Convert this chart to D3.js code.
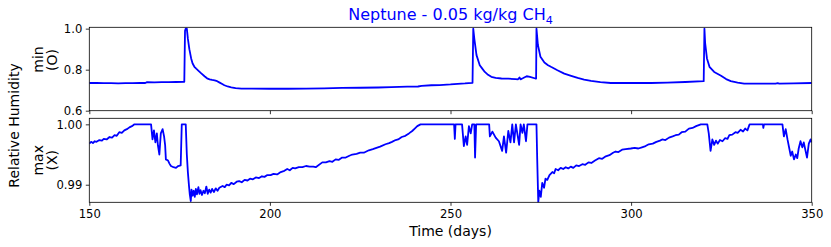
<!DOCTYPE html>
<html>
<head>
<meta charset="utf-8">
<script src="https://d3js.org/d3.v7.min.js"></script>
<style>
  body { margin: 0; background: #fff; }
  svg { font-family: "DejaVu Sans", sans-serif; }
</style>
</head>
<body>
<svg id="chart" width="831" height="247"></svg>
<script>
// top panel: min relative humidity (O)
const minDays = [150, 152, 154, 156, 158, 160, 162, 164, 165.5, 166, 168, 170, 172, 174, 176.3, 176.5, 176.7, 177.0, 177.3, 177.7, 178.2, 178.6, 179.1, 179.6, 180.1, 181, 181.9, 182.6, 183.3, 184, 184.7, 185.4, 186.1, 186.8, 187.4, 188.3, 189.3, 190.5, 192.1, 195, 200, 205, 210, 215, 220, 225, 230, 233.6, 238, 241, 242, 244.7, 247, 250, 252, 254, 256.1, 256.3, 256.6, 257.2, 258.1, 258.8, 259.5, 260.4, 261.3, 262.5, 264.1, 266, 268, 268.7, 269.1, 269.4, 270, 271.1, 272, 273.5, 273.7, 273.8, 274.2, 274.9, 276, 277, 277.8, 279.6, 281.5, 283.4, 285.2, 287, 288.9, 291.5, 294.4, 300, 305.5, 310, 315, 320.1, 320.3, 320.5, 321, 321.7, 323, 324.9, 326.3, 327.6, 329.5, 331.3, 335, 340, 340.6, 341, 345, 350];
const minVals = [0.735, 0.736, 0.734, 0.734, 0.733, 0.734, 0.734, 0.735, 0.735, 0.739, 0.738, 0.739, 0.739, 0.740, 0.741, 0.990, 1.0, 1.0, 0.95, 0.90, 0.855, 0.83, 0.814, 0.805, 0.797, 0.782, 0.768, 0.758, 0.753, 0.750, 0.748, 0.744, 0.737, 0.730, 0.724, 0.718, 0.714, 0.710, 0.708, 0.708, 0.707, 0.707, 0.708, 0.709, 0.711, 0.712, 0.713, 0.715, 0.717, 0.718, 0.721, 0.724, 0.725, 0.728, 0.731, 0.733, 0.736, 1.0, 0.95, 0.871, 0.822, 0.805, 0.789, 0.775, 0.765, 0.760, 0.757, 0.756, 0.754, 0.753, 0.762, 0.753, 0.758, 0.768, 0.765, 0.757, 0.757, 1.0, 0.92, 0.863, 0.835, 0.822, 0.814, 0.797, 0.781, 0.770, 0.760, 0.752, 0.745, 0.739, 0.735, 0.735, 0.735, 0.737, 0.740, 0.744, 1.0, 0.93, 0.855, 0.814, 0.789, 0.770, 0.754, 0.744, 0.737, 0.732, 0.732, 0.732, 0.734, 0.732, 0.733, 0.735];

// bottom panel: max relative humidity (X)
const maxDays = [150, 150.5, 151, 151.5, 152, 152.8, 153.5, 154, 154.8, 155.6, 156.3, 157, 157.6, 158.3, 159, 159.7, 160.4, 161.1, 161.8, 162.5, 167.1,
  167.5, 167.9, 168.3, 168.7, 169.0, 169.4, 169.8, 170.3, 170.7, 171.0, 171.2, 171.8, 172.2, 172.6, 173.3, 174.0, 174.6, 175.3, 175.6, 176.7, 177.0, 177.3, 177.6, 177.8, 178.1, 178.3, 178.6, 178.9, 179.2, 179.5, 179.8, 180.2, 180.5, 180.8, 181.2, 181.6, 182, 182.4, 182.8, 183.2, 183.6, 184, 184.5, 185, 185.5, 186, 186.9, 187.5, 188, 188.7, 189.3, 190, 190.8, 191.5, 192.2, 193, 193.8, 194.5, 195.3, 196.1, 197, 197.8, 198.5, 199.3, 200.2,
  201, 202, 203, 204, 204.8, 205.5, 206.3, 207, 208, 209, 210, 211, 212, 212.7, 214.5, 215.5, 216.5, 217.3, 218.2, 219, 220, 221, 222, 222.8, 224, 225, 226, 227.4, 228.5, 229.5, 230.5, 232, 233, 233.8, 234.8, 235.5, 236.5, 237.5, 238.5, 239.4, 240.1, 240.8, 241.7, 251,
  251.2, 251.4, 253.2, 253.7, 254.2, 254.6, 255.1, 255.6, 256, 256.6, 256.8, 257.1, 260.7, 260.9, 261.6, 262.5, 263.4, 264.3, 264.8, 265.4, 266, 266.6, 267.1, 267.6, 268.1, 269, 269.4, 269.9, 270.3, 270.9, 271.3, 273.8, 274.0, 274.3, 274.6, 275, 275.4, 275.9, 276.3, 276.8, 277.4, 278.2, 278.7, 279.1, 279.8, 280.5, 281.2, 281.9, 282.6, 283.3, 284, 284.8, 285.6, 286.5, 287.3, 288.2, 289, 290, 291.1, 292, 293, 294, 295, 295.7, 296.5, 297.5, 298.5, 299.9,
  301, 302, 303, 304, 304.9, 306, 307, 308, 308.6, 309.5, 310.5, 311.5, 312.3, 313.2, 314, 315, 316, 317, 318, 319.3, 321.1, 321.5, 322, 322.5, 323, 323.5, 324, 324.6, 325.3, 326, 326.7, 327.2, 328, 328.9, 329.5, 330.3, 331, 331.6, 332.2, 332.8, 336.5, 336.6, 336.8, 341.9, 342.3, 342.8, 343.3, 343.8, 344.2, 344.6, 345.1, 345.6, 346, 346.4, 346.9, 347.4, 347.8, 348.3, 348.7, 349.2, 349.7, 350];
const maxVals = [0.9968, 0.9971, 0.9969, 0.9972, 0.9971, 0.9974, 0.9973, 0.9976, 0.9975, 0.9979, 0.9978, 0.9982, 0.9981, 0.9987, 0.9986, 0.9990, 0.9992, 0.9995, 0.9997, 1.0, 1.0,
  0.9975, 0.9990, 0.9970, 0.9985, 0.9965, 0.9950, 0.9985, 0.9992, 0.9980, 0.9965, 0.9942, 0.9940, 0.9935, 0.9931, 0.9929, 0.9928, 0.9931, 0.9932, 1.0, 1.0, 0.9950, 0.9920, 0.9898, 0.9885, 0.9873, 0.9892, 0.9882, 0.9890, 0.9880, 0.9893, 0.9884, 0.9896, 0.9885, 0.9891, 0.9883, 0.9890, 0.9886, 0.9897, 0.9885, 0.9892, 0.9887, 0.9893, 0.9888, 0.9894, 0.9890, 0.9895, 0.9898, 0.9896, 0.9900, 0.9899, 0.9903, 0.9901, 0.9905, 0.9906, 0.9904, 0.9908, 0.9907, 0.9910, 0.9909, 0.9912, 0.9911, 0.9914, 0.9913, 0.9916, 0.9916,
  0.9918, 0.9917, 0.9921, 0.9923, 0.9926, 0.9924, 0.9928, 0.9927, 0.9929, 0.9929, 0.9931, 0.9930, 0.9930, 0.9929, 0.9937, 0.9937, 0.9939, 0.9938, 0.9942, 0.9941, 0.9945, 0.9945, 0.9948, 0.9950, 0.9951, 0.9953, 0.9953, 0.9957, 0.9959, 0.9961, 0.9963, 0.9967, 0.9969, 0.9971, 0.9974, 0.9975, 0.9979, 0.9981, 0.9985, 0.9989, 0.9993, 0.9997, 1.0, 1.0,
  0.9976, 1.0, 1.0, 0.9964, 0.9980, 0.9966, 0.9997, 0.9985, 1.0, 1.0, 0.9945, 1.0, 1.0, 0.9980, 0.9988, 0.9978, 0.9972, 0.9956, 0.9980, 0.9953, 0.9989, 0.9970, 1.0, 0.9970, 1.0, 0.9966, 1.0, 0.9986, 1.0, 0.9972, 1.0, 1.0, 0.9944, 0.9871, 0.9890, 0.9880, 0.9903, 0.9895, 0.9910, 0.9908, 0.9916, 0.9921, 0.9919, 0.9926, 0.9924, 0.9928, 0.9926, 0.9929, 0.9927, 0.9930, 0.9928, 0.9932, 0.9931, 0.9934, 0.9933, 0.9937, 0.9936, 0.9940, 0.9944, 0.9943, 0.9947, 0.9949, 0.9953, 0.9955, 0.9954, 0.9958, 0.9959, 0.9960,
  0.9961, 0.9960, 0.9962, 0.9964, 0.9967, 0.9968, 0.9971, 0.9973, 0.9975, 0.9974, 0.9978, 0.9980, 0.9982, 0.9983, 0.9987, 0.9988, 0.9993, 0.9994, 0.9997, 1.0, 1.0, 0.9985, 0.9956, 0.9975, 0.9966, 0.9973, 0.9968, 0.9974, 0.9972, 0.9977, 0.9976, 0.9982, 0.9983, 0.9987, 0.9986, 0.9991, 0.9988, 0.9993, 0.9990, 1.0, 1.0, 0.9994, 1.0, 1.0, 0.9980, 0.9992, 0.9975, 0.9960, 0.9948, 0.9955, 0.9942, 0.9950, 0.9944, 0.9960, 0.9972, 0.9962, 0.9970, 0.9956, 0.9945, 0.9968, 0.9975, 0.9970];

const xTicks = [150, 200, 250, 300, 350];
const minTicks = [0.6, 0.8, 1.0];
const maxTicks = [0.99, 1.00];

const svg = d3.select("#chart");
const left = 89.3, right = 811.7;
const top1 = 27.3, bot1 = 110.7, top2 = 118.3, bot2 = 202.3;
const blue = "#0000ff";

const x = d3.scaleLinear().domain([150, 350]).range([left, right]);
const y1 = d3.scaleLinear().domain([0.6, 1.0066]).range([bot1, top1]);
const y2 = d3.scaleLinear().domain([0.98709, 1.001]).range([bot2, top2]);

function panel(id, y, days, vals, yTicks, fmt, showX) {
  const defs = svg.append("defs");
  defs.append("clipPath").attr("id", id)
    .append("rect")
    .attr("x", left).attr("y", y.range()[1])
    .attr("width", right - left).attr("height", y.range()[0] - y.range()[1]);

  const line = d3.line().x((d, i) => x(days[i])).y(d => y(d));
  svg.append("path")
    .datum(vals)
    .attr("clip-path", `url(#${id})`)
    .attr("d", line)
    .attr("fill", "none")
    .attr("stroke", blue)
    .attr("stroke-width", 1.8)
    .attr("stroke-linejoin", "round");

  const yAxis = svg.append("g")
    .attr("transform", `translate(${left},0)`)
    .call(d3.axisLeft(y).tickValues(yTicks).tickFormat(fmt).tickSize(3.5).tickPadding(3.5));
  const xAxis = svg.append("g")
    .attr("transform", `translate(0,${y.range()[0]})`)
    .call(d3.axisBottom(x).tickValues(xTicks).tickFormat(showX ? d3.format("d") : "").tickSize(3.5).tickPadding(3.5));
  [yAxis, xAxis].forEach(g => {
    g.select(".domain").remove();
    g.selectAll("line").attr("stroke", "#000").attr("stroke-width", 0.8);
    g.selectAll("text").attr("font-family", "DejaVu Sans").attr("font-size", 11.6).attr("fill", "#000");
  });

  svg.append("rect")
    .attr("x", left).attr("y", y.range()[1])
    .attr("width", right - left).attr("height", y.range()[0] - y.range()[1])
    .attr("fill", "none").attr("stroke", "#000").attr("stroke-width", 0.8);
}

panel("clipMin", y1, minDays, minVals, minTicks, d3.format(".1f"), false);
panel("clipMax", y2, maxDays, maxVals, maxTicks, d3.format(".2f"), true);

// title
const title = svg.append("text")
  .attr("x", (left + right) / 2).attr("y", 20)
  .attr("text-anchor", "middle")
  .attr("font-size", 16).attr("fill", blue)
  .text("Neptune - 0.05 kg/kg CH");
title.append("tspan").attr("dy", 3.5).attr("font-size", 11.2).text("4");

// axis labels
svg.append("text")
  .attr("x", (left + right) / 2).attr("y", 235.5)
  .attr("text-anchor", "middle").attr("font-size", 14)
  .text("Time (days)");

function vlabel(xp, yp, s, size) {
  svg.append("text")
    .attr("transform", `translate(${xp},${yp}) rotate(-90)`)
    .attr("text-anchor", "middle").attr("font-size", size)
    .text(s);
}
vlabel(18.5, 125.5, "Relative Humidity", 14);
vlabel(43, 59.5, "min", 14);
vlabel(56.5, 60, "(O)", 14);
vlabel(43, 160.3, "max", 14);
vlabel(56.5, 160.3, "(X)", 14);
</script>
</body>
</html>
